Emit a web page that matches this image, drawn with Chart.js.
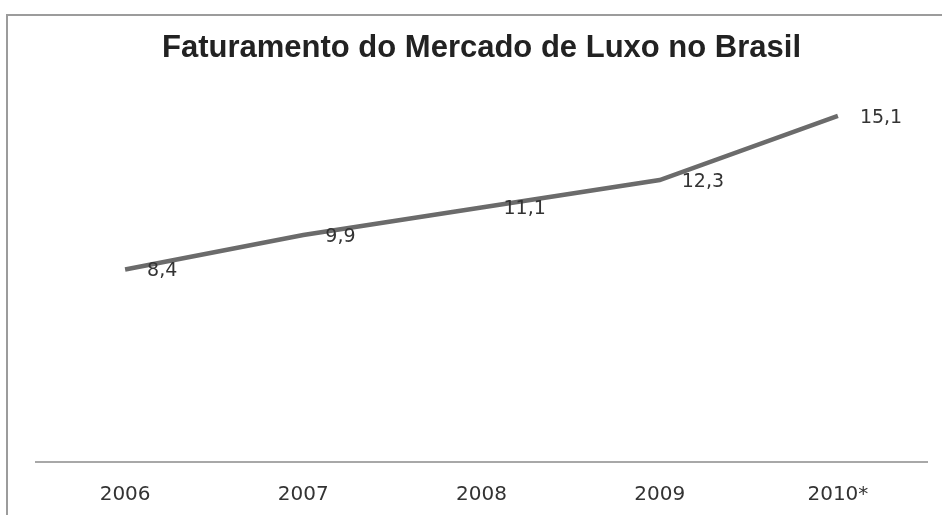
<!DOCTYPE html>
<html>
<head>
<meta charset="utf-8">
<script src="https://cdn.jsdelivr.net/npm/chart.js@4/dist/chart.umd.min.js"></script>
<style>
    html, body { margin: 0; padding: 0; background: #fff; overflow: hidden; }
    #frame {
        position: absolute; left: 6px; top: 14px;
        width: 1000px; height: 600px;
        border: 2px solid #9c9c9c;
    }
    #wrap { position: absolute; left: 0; top: 0; width: 942px; height: 515px; }
</style>
</head>
<body>
<div id="frame"></div>
<div id="wrap"><canvas id="chart" width="942" height="515"></canvas></div>
<script>
// --- Data ---
const years = ['2006', '2007', '2008', '2009', '2010*'];
const revenue = [8.4, 9.9, 11.1, 12.3, 15.1];
const revenueLabels = ['8,4', '9,9', '11,1', '12,3', '15,1'];

// draws the value next to each point (to the right, like the original)
const pointLabels = {
    id: 'pointLabels',
    afterDatasetsDraw(chart) {
        const ctx = chart.ctx;
        const meta = chart.getDatasetMeta(0);
        ctx.save();
        ctx.font = '19px "DejaVu Sans"';
        ctx.fillStyle = '#333';
        ctx.textAlign = 'left';
        ctx.textBaseline = 'middle';
        meta.data.forEach((pt, i) => {
            ctx.fillText(revenueLabels[i], pt.x + 22, pt.y + 2);
        });
        ctx.restore();
    }
};

new Chart(document.getElementById('chart').getContext('2d'), {
    type: 'line',
    data: {
        labels: years,
        datasets: [{
            data: revenue,
            borderColor: '#6b6b6b',
            borderWidth: 4.5,
            pointRadius: 0,
            tension: 0,
            fill: false
        }]
    },
    options: {
        responsive: false,
        animation: false,
        layout: { padding: { left: 36, right: 15, top: 12, bottom: 12 } },
        plugins: {
            legend: { display: false },
            tooltip: { enabled: false },
            title: {
                display: true,
                text: 'Faturamento do Mercado de Luxo no Brasil',
                color: '#222',
                font: { family: '"Liberation Sans", Arial, sans-serif', size: 31, weight: 'bold' },
                padding: { top: 18, bottom: 28 }
            }
        },
        scales: {
            x: {
                offset: true,
                grid: { display: false, drawTicks: false },
                border: { display: true, color: '#a8a8a8', width: 2 },
                ticks: {
                    color: '#333',
                    font: { family: '"DejaVu Sans"', size: 20 },
                    padding: 21
                },
                afterFit(scale) { scale.height = 41; }
            },
            y: {
                display: false,
                min: 0,
                max: 16
            }
        }
    },
    plugins: [pointLabels]
});
</script>
</body>
</html>
